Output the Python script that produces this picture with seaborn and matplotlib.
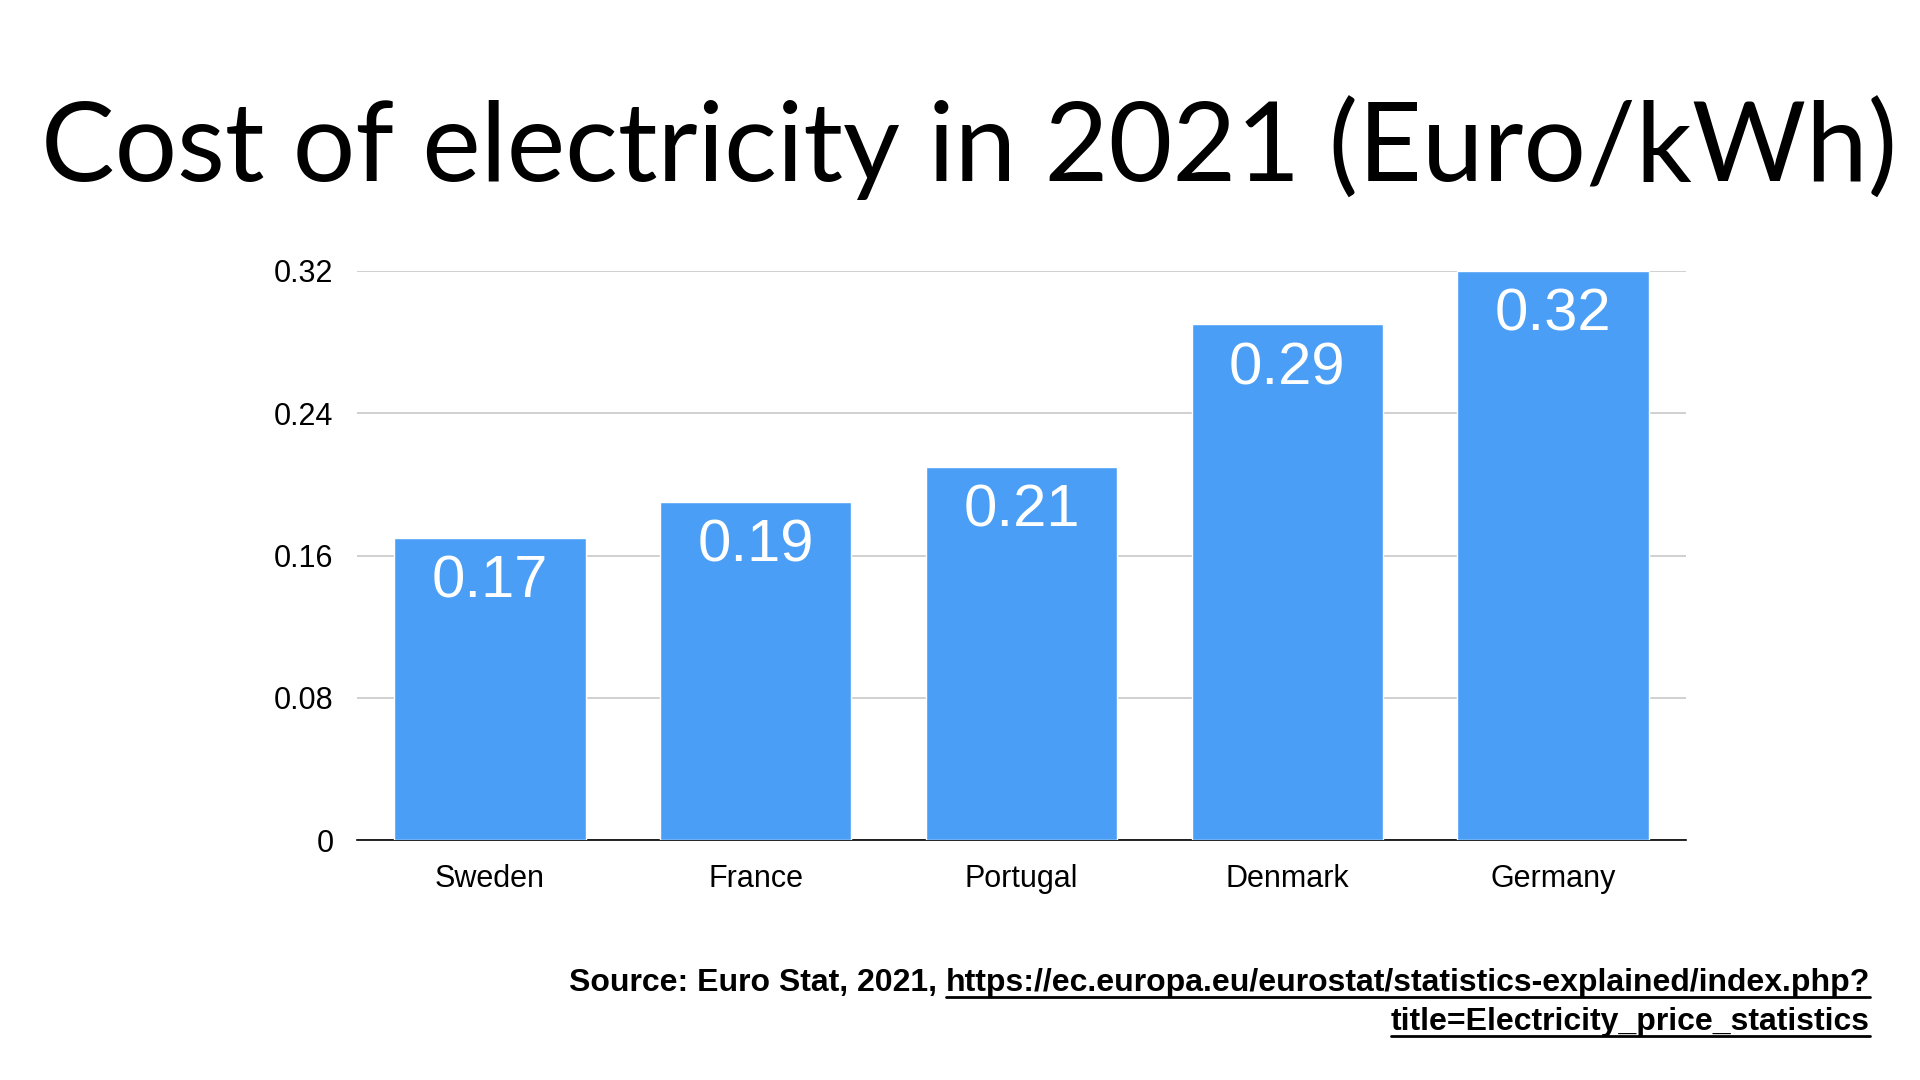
import matplotlib
matplotlib.use("Agg")
import matplotlib.pyplot as plt
import seaborn as sns
import pandas as pd
from matplotlib.lines import Line2D

countries = ["Sweden", "France", "Portugal", "Denmark", "Germany"]
cost = [0.17, 0.19, 0.21, 0.29, 0.32]
y_ticks = [0, 0.08, 0.16, 0.24, 0.32]
y_tick_labels = ["0", "0.08", "0.16", "0.24", "0.32"]

title_text = "Cost of electricity in 2021 (Euro/kWh)"
source_prefix = "Source: Euro Stat, 2021, "
source_url_1 = "https://ec.europa.eu/eurostat/statistics-explained/index.php?"
source_url_2 = "title=Electricity_price_statistics"

bar_color = "#4A9EF5"

sns.set_theme(style="white")
plt.rcParams["font.family"] = ["Liberation Sans", "DejaVu Sans"]

df = pd.DataFrame({"country": countries, "cost": cost})

fig = plt.figure(figsize=(19.2, 10.8), dpi=100)
ax = fig.add_axes([357 / 1920, 1 - 840 / 1080, (1686 - 357) / 1920, (840 - 271) / 1080])

sns.barplot(data=df, x="country", y="cost", color=bar_color, saturation=1,
            width=0.72, ax=ax, zorder=3)

ax.set_xlim(-0.5, len(countries) - 0.5)
ax.set_ylim(0, 0.32)
ax.set_yticks(y_ticks)
ax.set_yticklabels(y_tick_labels)
ax.yaxis.grid(True, color="#c8c8c8", linewidth=1.2, zorder=0)
ax.set_axisbelow(True)
ax.set_xlabel("")
ax.set_ylabel("")
for side in ["top", "right", "left"]:
    ax.spines[side].set_visible(False)
ax.spines["bottom"].set_color("black")
ax.spines["bottom"].set_linewidth(1.2)
ax.tick_params(axis="y", length=0, pad=17, labelsize=22, labelcolor="black")
ax.tick_params(axis="x", length=0, pad=17, labelsize=22, labelcolor="black")

# value labels inside bars
for i, v in enumerate(cost):
    ax.annotate(f"{v:.2f}", xy=(i, v), xytext=(0, -12), textcoords="offset points",
                ha="center", va="top", color="white", fontsize=43)

fig.text(969 / 1920, 1 - 148 / 1080, title_text, ha="center", va="center",
         fontsize=79.5, family=["Lato", "DejaVu Sans"], fontweight="normal", color="black")

# source with underlined link
right_x = 1870 / 1920
y1 = 1 - 983 / 1080
y2 = 1 - 1022 / 1080
t_url1 = fig.text(right_x, y1, source_url_1, ha="right", va="center",
                  fontsize=23, fontweight="bold", color="black")
t_url2 = fig.text(right_x, y2, source_url_2, ha="right", va="center",
                  fontsize=23, fontweight="bold", color="black")
fig.canvas.draw()
renderer = fig.canvas.get_renderer()
inv = fig.transFigure.inverted()
bb1 = t_url1.get_window_extent(renderer).transformed(inv)
fig.text(bb1.x0, y1, source_prefix, ha="right", va="center",
         fontsize=23, fontweight="bold", color="black")
for t in [t_url1, t_url2]:
    bb = t.get_window_extent(renderer).transformed(inv)
    yl = bb.y0 + 0.001
    fig.add_artist(Line2D([bb.x0, bb.x1], [yl, yl], transform=fig.transFigure,
                          color="black", linewidth=2))

fig.savefig("out.png", dpi=100)
